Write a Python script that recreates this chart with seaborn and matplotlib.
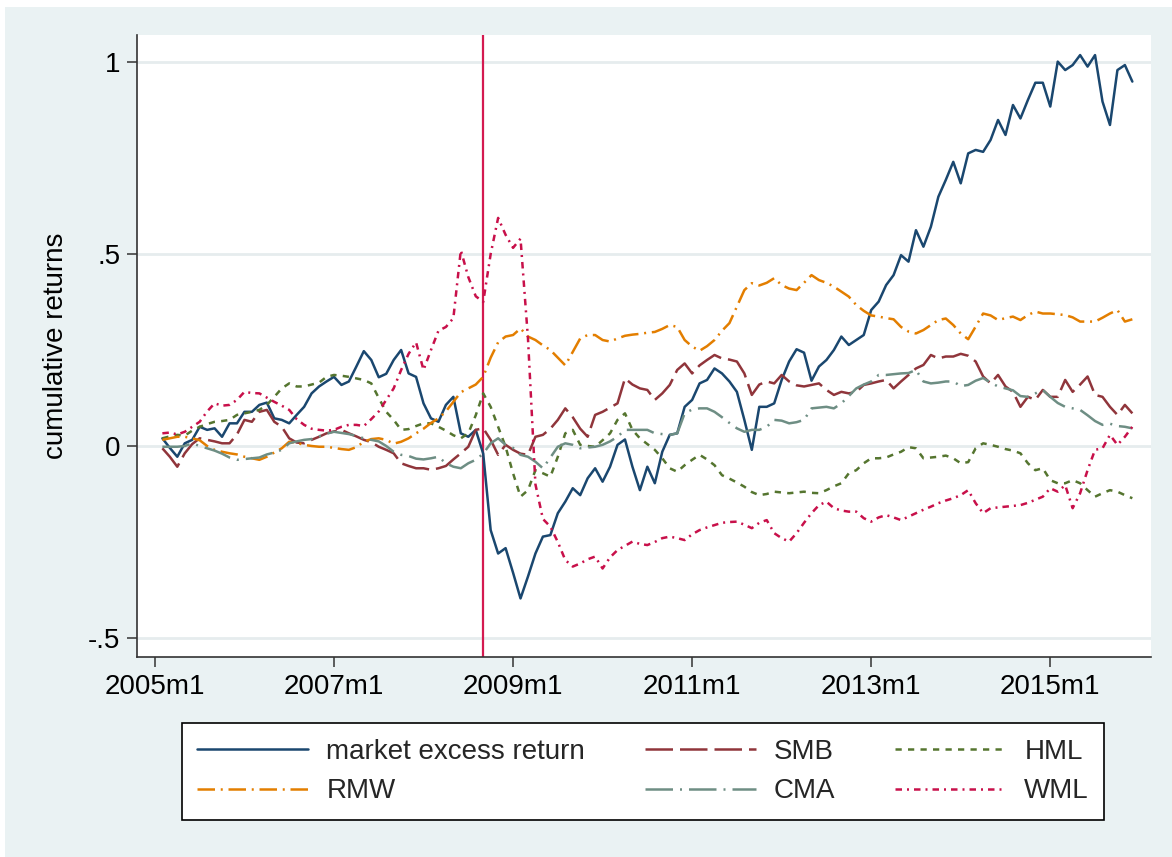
import numpy as np
import pandas as pd
import matplotlib
matplotlib.use("Agg")
import matplotlib.pyplot as plt
from matplotlib.patches import Rectangle
import seaborn as sns

# ---------------- data ----------------
start_month = "2005-02"
end_month = "2015-12"
event_month = "2008-09"

market = [0.020, -0.005, -0.028, 0.007, 0.016, 0.050, 0.042, 0.046, 0.024, 0.059,
          0.059, 0.089, 0.089, 0.107, 0.113, 0.072, 0.068, 0.059, 0.081, 0.102,
          0.137, 0.155, 0.168, 0.180, 0.159, 0.168, 0.207, 0.247, 0.224, 0.179,
          0.188, 0.224, 0.250, 0.189, 0.180, 0.111, 0.072, 0.063, 0.107, 0.128,
          0.033, 0.024, 0.042, -0.020, -0.219, -0.280, -0.266, -0.330, -0.397, -0.340,
          -0.280, -0.236, -0.232, -0.175, -0.145, -0.110, -0.128, -0.084, -0.058, -0.093,
          -0.054, 0.003, 0.017, -0.054, -0.115, -0.054, -0.097, -0.015, 0.029, 0.033,
          0.102, 0.120, 0.163, 0.172, 0.202, 0.189, 0.168, 0.141, 0.068, -0.010,
          0.102, 0.102, 0.111, 0.172, 0.220, 0.252, 0.243, 0.170, 0.207, 0.224,
          0.250, 0.285, 0.263, 0.276, 0.289, 0.354, 0.376, 0.419, 0.445, 0.497,
          0.480, 0.562, 0.519, 0.571, 0.649, 0.693, 0.740, 0.684, 0.762, 0.771,
          0.766, 0.797, 0.849, 0.810, 0.888, 0.853, 0.901, 0.946, 0.946, 0.884,
          1.001, 0.979, 0.992, 1.018, 0.988, 1.018, 0.897, 0.836, 0.979, 0.992, 0.949]

smb = [-0.006, -0.028, -0.054, -0.019, 0.005, 0.020, 0.016, 0.012, 0.007, 0.007,
       0.030, 0.068, 0.063, 0.089, 0.094, 0.063, 0.050, 0.020, 0.009, 0.007,
       0.016, 0.024, 0.033, 0.038, 0.042, 0.033, 0.025, 0.016, 0.010, -0.002,
       -0.010, -0.019, -0.045, -0.052, -0.058, -0.058, -0.062, -0.058, -0.052, -0.035,
       -0.019, -0.002, 0.042, 0.046, 0.016, -0.023, 0.003, -0.010, -0.020, -0.023,
       0.024, 0.029, 0.045, 0.068, 0.098, 0.075, 0.045, 0.024, 0.081, 0.089,
       0.100, 0.111, 0.176, 0.160, 0.150, 0.146, 0.120, 0.137, 0.159, 0.198,
       0.215, 0.189, 0.210, 0.224, 0.237, 0.228, 0.225, 0.220, 0.189, 0.133,
       0.160, 0.168, 0.163, 0.185, 0.168, 0.158, 0.155, 0.159, 0.163, 0.146,
       0.133, 0.141, 0.137, 0.141, 0.159, 0.163, 0.168, 0.172, 0.150, 0.168,
       0.185, 0.202, 0.211, 0.237, 0.228, 0.233, 0.233, 0.240, 0.235, 0.220,
       0.181, 0.163, 0.185, 0.155, 0.141, 0.102, 0.128, 0.120, 0.146, 0.128,
       0.128, 0.172, 0.141, 0.160, 0.181, 0.133, 0.128, 0.102, 0.081, 0.107, 0.085]

hml = [0.020, 0.025, 0.029, 0.027, 0.040, 0.050, 0.057, 0.063, 0.065, 0.068,
       0.081, 0.085, 0.089, 0.094, 0.107, 0.128, 0.150, 0.163, 0.155, 0.155,
       0.160, 0.165, 0.180, 0.185, 0.183, 0.180, 0.176, 0.172, 0.163, 0.125,
       0.089, 0.068, 0.042, 0.044, 0.052, 0.059, 0.059, 0.050, 0.040, 0.028,
       0.020, 0.033, 0.080, 0.137, 0.102, 0.050, -0.002, -0.071, -0.132, -0.115,
       -0.063, -0.071, -0.080, -0.028, 0.033, 0.042, 0.003, 0.000, -0.002, 0.015,
       0.033, 0.068, 0.085, 0.042, 0.020, 0.005, -0.010, -0.032, -0.058, -0.067,
       -0.050, -0.036, -0.023, -0.035, -0.050, -0.076, -0.085, -0.095, -0.106, -0.120,
       -0.128, -0.125, -0.119, -0.121, -0.123, -0.121, -0.119, -0.122, -0.123, -0.115,
       -0.105, -0.097, -0.071, -0.063, -0.045, -0.032, -0.032, -0.030, -0.022, -0.015,
       -0.003, -0.006, -0.032, -0.030, -0.028, -0.025, -0.032, -0.045, -0.042, -0.006,
       0.007, 0.003, -0.002, -0.008, -0.012, -0.019, -0.045, -0.063, -0.058, -0.089,
       -0.097, -0.097, -0.089, -0.097, -0.115, -0.132, -0.123, -0.115, -0.119, -0.128, -0.136]

rmw = [0.016, 0.020, 0.024, 0.024, 0.020, 0.015, 0.000, -0.010, -0.015, -0.019,
       -0.022, -0.028, -0.032, -0.036, -0.028, -0.017, -0.006, 0.011, 0.008, 0.003,
       0.000, -0.002, -0.002, -0.005, -0.008, -0.010, -0.003, 0.011, 0.018, 0.020,
       0.016, 0.006, 0.011, 0.020, 0.033, 0.045, 0.060, 0.072, 0.090, 0.115,
       0.140, 0.150, 0.160, 0.180, 0.230, 0.270, 0.285, 0.289, 0.306, 0.285,
       0.276, 0.262, 0.250, 0.230, 0.210, 0.245, 0.280, 0.289, 0.289, 0.276,
       0.272, 0.280, 0.287, 0.290, 0.292, 0.295, 0.297, 0.305, 0.315, 0.310,
       0.276, 0.259, 0.248, 0.260, 0.276, 0.300, 0.320, 0.363, 0.406, 0.424,
       0.418, 0.425, 0.437, 0.419, 0.410, 0.406, 0.425, 0.445, 0.432, 0.425,
       0.415, 0.402, 0.389, 0.367, 0.352, 0.340, 0.337, 0.333, 0.330, 0.310,
       0.298, 0.293, 0.302, 0.315, 0.328, 0.332, 0.315, 0.293, 0.278, 0.311,
       0.345, 0.340, 0.328, 0.333, 0.337, 0.328, 0.341, 0.350, 0.345, 0.345,
       0.343, 0.341, 0.335, 0.324, 0.324, 0.324, 0.334, 0.345, 0.354, 0.324, 0.330]

cma = [-0.002, -0.002, -0.002, 0.000, 0.007, 0.000, -0.006, -0.012, -0.020, -0.030,
       -0.036, -0.034, -0.032, -0.030, -0.022, -0.017, -0.010, 0.007, 0.012, 0.016,
       0.018, 0.025, 0.032, 0.037, 0.034, 0.031, 0.026, 0.020, 0.016, 0.012,
       0.000, -0.015, -0.023, -0.026, -0.033, -0.035, -0.032, -0.028, -0.045, -0.054,
       -0.058, -0.045, -0.036, -0.020, 0.007, 0.020, 0.003, -0.005, -0.023, -0.028,
       -0.041, -0.058, -0.030, -0.002, 0.007, 0.003, -0.006, -0.004, -0.002, 0.003,
       0.012, 0.024, 0.042, 0.042, 0.042, 0.042, 0.033, 0.031, 0.029, 0.033,
       0.085, 0.095, 0.098, 0.098, 0.089, 0.075, 0.060, 0.046, 0.037, 0.042,
       0.042, 0.050, 0.068, 0.066, 0.059, 0.062, 0.068, 0.098, 0.100, 0.102,
       0.098, 0.111, 0.130, 0.150, 0.160, 0.168, 0.185, 0.185, 0.187, 0.189,
       0.190, 0.198, 0.168, 0.163, 0.165, 0.168, 0.168, 0.156, 0.159, 0.170,
       0.177, 0.165, 0.155, 0.150, 0.145, 0.130, 0.128, 0.137, 0.146, 0.128,
       0.112, 0.102, 0.098, 0.094, 0.080, 0.065, 0.055, 0.058, 0.052, 0.050, 0.046]

wml = [0.033, 0.035, 0.030, 0.037, 0.050, 0.063, 0.090, 0.111, 0.105, 0.107,
       0.120, 0.141, 0.138, 0.137, 0.126, 0.115, 0.105, 0.094, 0.070, 0.055,
       0.045, 0.042, 0.040, 0.042, 0.050, 0.055, 0.055, 0.052, 0.070, 0.090,
       0.120, 0.150, 0.198, 0.240, 0.270, 0.198, 0.250, 0.300, 0.310, 0.333,
       0.510, 0.440, 0.390, 0.375, 0.500, 0.594, 0.550, 0.516, 0.540, 0.280,
       -0.100, -0.190, -0.210, -0.250, -0.297, -0.314, -0.306, -0.295, -0.288, -0.319,
       -0.290, -0.271, -0.260, -0.249, -0.255, -0.258, -0.250, -0.240, -0.236, -0.240,
       -0.245, -0.230, -0.219, -0.212, -0.206, -0.200, -0.198, -0.197, -0.205, -0.214,
       -0.200, -0.193, -0.227, -0.240, -0.249, -0.227, -0.200, -0.175, -0.154, -0.145,
       -0.162, -0.168, -0.171, -0.171, -0.188, -0.197, -0.186, -0.180, -0.186, -0.193,
       -0.184, -0.175, -0.166, -0.158, -0.149, -0.142, -0.136, -0.128, -0.115, -0.149,
       -0.175, -0.162, -0.160, -0.158, -0.156, -0.154, -0.148, -0.140, -0.132, -0.110,
       -0.119, -0.102, -0.162, -0.123, -0.063, -0.010, -0.006, 0.029, 0.003, 0.024, 0.050]

series_names = ["market excess return", "SMB", "HML", "RMW", "CMA", "WML"]
x_tick_labels = ["2005m1", "2007m1", "2009m1", "2011m1", "2013m1", "2015m1"]
y_tick_values = [-0.5, 0, 0.5, 1]
y_tick_labels = ["-.5", "0", ".5", "1"]
y_label = "cumulative returns"

# ---------------- build table ----------------
periods = pd.period_range(start_month, end_month, freq="M")
base_year = 2005


def month_index(p):
    return (p.year - base_year) * 12 + p.month - 1


mi = np.array([month_index(p) for p in periods])
wide = pd.DataFrame({"m": mi, "market excess return": market, "SMB": smb,
                     "HML": hml, "RMW": rmw, "CMA": cma, "WML": wml})
df = wide.melt(id_vars="m", var_name="factor", value_name="value")

tick_pos = [month_index(pd.Period(s.replace("m", "-"), freq="M")) for s in x_tick_labels]
event_x = month_index(pd.Period(event_month, freq="M"))

# ---------------- style ----------------
sns.set_theme(style="white")
plt.rcParams["font.family"] = ["Liberation Sans", "DejaVu Sans"]

palette = {"market excess return": "#1A476F", "SMB": "#90353B", "HML": "#55752F",
           "RMW": "#E37E00", "CMA": "#6E8E84", "WML": "#C8104A"}
dashes = {"market excess return": "", "SMB": (11, 2.8), "HML": (2.5, 2.5),
          "RMW": (7, 2.3, 0.8, 2.3), "CMA": (11, 2.8, 0.8, 2.8), "WML": (2.6, 2.0, 0.8, 2.0)}

W, H = 1172, 857
fig = plt.figure(figsize=(W / 100, H / 100), dpi=100)
fig.patch.set_facecolor("white")
fig.patches.append(Rectangle((5 / W, 0), 1, (H - 7) / H, transform=fig.transFigure,
                             facecolor="#EAF2F3", edgecolor="none", zorder=-10))

ax_left, ax_right, ax_top, ax_bottom = 137, 1151, 35, 657
ax = fig.add_axes([ax_left / W, 1 - ax_bottom / H, (ax_right - ax_left) / W,
                   (ax_bottom - ax_top) / H])
ax.set_facecolor("white")

ax.axvline(event_x, color="#D41A50", lw=1.6, zorder=1)

sns.lineplot(data=df, x="m", y="value", hue="factor", style="factor",
             hue_order=series_names, style_order=series_names,
             palette=palette, dashes=dashes, lw=1.8, estimator=None,
             ax=ax, legend=True, zorder=3)

handles, labels = ax.get_legend_handles_labels()
ax.get_legend().remove()
hmap = dict(zip(labels, handles))
col_order = ["market excess return", "RMW", "SMB", "CMA", "HML", "WML"]

ax.set_xlim(-2.4, 133.5)
ax.set_ylim(-0.5495, 1.0703)
ax.set_xticks(tick_pos)
ax.set_xticklabels(x_tick_labels)
ax.set_yticks(y_tick_values)
ax.set_yticklabels(y_tick_labels)
ax.set_xlabel("")
ax.set_ylabel(y_label, fontsize=20, labelpad=14, color="black")

ax.yaxis.grid(True, color="#E6ECEE", lw=2)
ax.xaxis.grid(False)
ax.set_axisbelow(True)

for s in ["top", "right"]:
    ax.spines[s].set_visible(False)
for s in ["left", "bottom"]:
    ax.spines[s].set_color("#333333")
    ax.spines[s].set_linewidth(1.2)

ax.tick_params(axis="both", which="major", direction="out", length=7, width=1.1,
               color="#333333", labelsize=20, labelcolor="black", pad=5,
               left=True, bottom=True)

leg = fig.legend([hmap[k] for k in col_order], col_order, ncol=3, loc="center",
                 bbox_to_anchor=(643 / W, 1 - 771.5 / H), frameon=True, fontsize=20,
                 handlelength=4.0, handletextpad=0.65, columnspacing=2.15,
                 borderpad=0.55, labelspacing=0.5, fancybox=False,
                 edgecolor="black", facecolor="white", framealpha=1)
leg.get_frame().set_linewidth(1.2)

fig.savefig("out.png", dpi=100, facecolor=fig.get_facecolor())
